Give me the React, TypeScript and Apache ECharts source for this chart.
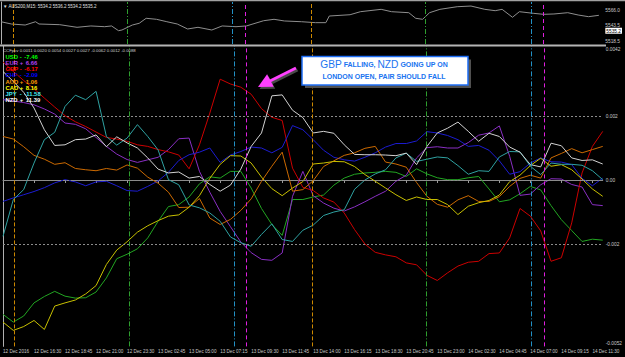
import React, { useEffect, useRef } from 'react';
import * as echarts from 'echarts';

// ---------- data ----------
// 15-minute bar index at which each CCF sample is read
const sampleBars: number[] = Array.from({ length: 59 }, (_, i) => i * 3);

const xTickLabels = [
  '12 Dec 2016', '12 Dec 16:30', '12 Dec 18:45', '12 Dec 21:00', '12 Dec 23:30',
  '13 Dec 02:45', '13 Dec 05:00', '13 Dec 07:15', '13 Dec 09:30', '13 Dec 11:45',
  '13 Dec 14:00', '13 Dec 16:15', '13 Dec 18:30', '13 Dec 20:45', '13 Dec 23:00',
  '14 Dec 02:30', '14 Dec 04:45', '14 Dec 07:00', '14 Dec 09:15', '14 Dec 11:30',
];
const xTickStep = 9;

// CCF values in units of 0.0001
const ccfTickValues = [-52, -20, 0, 20, 42];
const ccfTickLabels = ['-0.0052', '-0.002', '0.00', '0.002', '0.0042'];
const ccfGridValues = [-20, 0, 20];

const currencies = ['USD', 'EUR', 'GBP', 'CHF', 'AUD', 'CAD', 'JPY', 'NZD'];
const legendValues = [-7.46, 6.66, -6.17, -2.09, 1.06, 8.16, -11.58, 11.39];
const ccfHeader = 'CCFpcv 0.0011 0.0020 0.0054 0.0027 0.0027 -0.0062 0.0012 -0.0088';

const usd = [-42.0, -44.4, -42.5, -38.4, -36.4, -34.8, -36.3, -36.9, -36.8, -35.0, -30.6, -24.6, -23.2, -21.5, -18.1, -12.9, -8.3, -7.7, -5.3, -1.2, 1.0, 0.6, 2.7, 2.7, -2.5, -8.9, -13.9, -17.3, -6.1, -6.1, -5.3, -4.7, -1.6, 0.6, 1.8, 2.2, 2.4, 2.7, 2.4, 1.1, 3.5, 1.9, 0.7, 0.1, 0.1, 0.7, 1.1, -2.8, -6.8, -6.2, -4.3, -2.0, -3.1, -8.0, -12.4, -15.8, -19.2, -18.5, -18.8];
const eur = [25.1, 24.7, 24.2, 23.5, 22.2, 20.6, 17.8, 17.4, 16.0, 13.3, 10.5, 8.1, 6.4, 5.5, 6.3, 7.1, 9.5, 12.9, 13.1, 2.7, -3.8, -9.8, -14.6, -19.4, -22.7, -24.8, -25.1, -22.8, -5.1, 2.7, -4.9, -7.2, -8.8, -9.7, -8.4, -6.8, -5.1, -3.5, -0.4, 1.5, 6.9, 10.1, 10.4, 10.0, 10.0, 11.7, 14.0, 14.7, 16.9, 7.4, -4.8, -4.4, -1.5, 0.4, 0.3, -1.4, -2.2, -7.7, -8.0];
const gbp = [36.9, 33.9, 31.1, 28.5, 25.6, 22.8, 20.1, 18.2, 16.7, 15.0, 13.3, 12.8, 12.1, 11.0, 10.5, 9.5, 8.8, 7.8, 3.5, 11.0, 20.9, 31.5, 30.0, 29.0, 26.8, 22.3, 19.6, 18.6, 3.7, -2.3, -3.3, -5.6, -6.9, -10.3, -15.5, -20.0, -22.6, -23.4, -24.0, -25.9, -26.5, -29.8, -31.4, -29.0, -26.9, -25.7, -25.4, -23.0, -22.8, -18.1, -8.9, -11.3, -15.9, -25.4, -24.3, -13.4, 2.2, 10.5, 15.2];
const chf = [-6.7, -5.6, -4.6, -3.6, -2.4, -0.9, 0.1, -0.6, -1.8, -0.6, -0.4, -1.8, -3.3, -3.5, -2.0, -0.3, 2.4, 6.1, 7.9, 8.7, 10.0, 5.5, 7.8, 8.9, 10.3, 10.0, 8.5, 10.2, 17.0, 15.7, 12.6, 9.3, 7.1, 6.3, 5.9, 7.1, 8.5, 10.3, 11.4, 11.4, 12.2, 15.1, 14.7, 13.9, 12.6, 10.5, 10.8, 9.3, 6.0, 1.8, 2.6, 5.3, 6.9, 5.7, 5.6, 4.8, 0.5, -1.8, 0.6];
const aud = [13.6, 12.8, 10.4, 7.7, 6.5, 4.9, 5.4, 3.6, 3.2, 2.9, 3.6, 3.1, 4.7, 3.7, 0.9, -1.0, -3.8, -8.6, -8.5, -5.8, -11.9, -13.9, -12.3, -9.5, -5.9, -0.4, 4.3, 8.7, -3.5, -3.0, -0.2, 4.2, 6.0, 7.7, 8.5, 9.9, 10.5, 5.6, 5.0, 4.0, -0.8, -5.1, -7.6, -8.5, -6.2, -4.9, -6.7, -6.7, -5.2, -2.0, 0.5, 1.5, 0.6, 6.9, 8.3, 9.8, 8.5, 9.5, 10.5];
const cad = [-44.4, -47.0, -45.8, -43.9, -46.7, -39.4, -38.4, -37.5, -35.6, -33.0, -26.4, -21.9, -19.3, -16.3, -14.3, -12.7, -11.3, -10.9, -8.5, -4.9, 0.5, 4.9, 7.6, 7.5, 5.3, 0.9, -2.7, -4.9, -2.5, -0.5, 5.0, 5.3, 5.8, 5.7, 4.2, 1.7, -0.4, -2.5, -4.6, -6.4, -5.3, -6.1, -6.1, -7.7, -10.8, -8.2, -7.1, -6.4, -4.7, -0.5, 1.5, 4.5, 6.8, 4.3, 4.8, 3.2, 0.3, -2.8, -5.1];
const jpy = [-17.6, -6.1, -3.0, 5.3, 12.6, 14.9, 23.0, 26.5, 25.1, 27.7, 13.6, 10.9, 13.1, 17.3, 13.6, 9.4, 0.1, -1.5, -7.8, -8.7, -10.3, -12.9, -17.8, -19.6, -20.7, -17.0, -13.7, -18.6, -19.2, -15.7, -14.1, -11.1, -10.0, -9.3, -2.9, 0.0, 1.9, 3.2, 6.9, 8.4, 5.8, 6.5, 7.2, 6.9, 4.5, 1.8, 2.9, 2.7, 7.2, 8.9, 8.8, 4.3, 1.7, 5.3, 4.9, 4.9, 4.6, 2.9, 0.1];
const nzd = [33.9, 30.8, 27.4, 22.5, 15.7, 10.8, 11.0, 12.6, 12.8, 14.1, 10.4, 13.5, 11.6, 10.0, 6.9, 3.4, 2.2, 2.5, 0.6, 1.1, -1.4, -3.5, -1.6, 3.4, 10.5, 14.7, 26.3, 26.6, 21.8, 19.5, 14.7, 15.2, 14.6, 11.0, 8.0, 7.9, 7.9, 7.8, 7.6, 8.4, 4.8, 10.5, 14.7, 16.2, 18.1, 15.2, 12.1, 14.6, 13.6, 10.3, 8.7, 4.8, 4.1, 11.5, 10.7, 6.9, 6.1, 6.3, 5.0];
const ccfValues = [usd, eur, gbp, chf, aud, cad, jpy, nzd];

// AUS200 M15 price panel
const priceHeader = '\u25BC AUS200,M15: 5534.2 5536.2 5534.2 5535.2';
const priceTickValues = [5518.5, 5543.5, 5566.0];
const currentPrice = 5535.2;
const priceBars = [0, 3, 7, 10, 11, 17, 22, 26, 30, 32, 34, 35, 38, 40, 42, 45, 48, 51, 54, 57, 61, 64, 68, 71, 76, 79, 82, 87, 91, 94, 95, 101, 104, 110, 113, 118, 120, 122, 124, 127, 132, 136, 140, 143, 145, 148, 150, 154, 157, 160, 164, 167, 170, 173];
const priceValues = [5548.6, 5545.2, 5543.7, 5548.6, 5545.2, 5544.2, 5540.3, 5542.3, 5541.2, 5542.3, 5535.3, 5536.3, 5543.7, 5546.3, 5553.7, 5552.2, 5548.6, 5545.2, 5537.8, 5540.3, 5536.3, 5542.3, 5541.2, 5542.3, 5550.1, 5552.2, 5549.7, 5548.6, 5547.2, 5547.2, 5557.1, 5559.0, 5563.5, 5567.0, 5563.5, 5562.0, 5553.7, 5552.2, 5562.0, 5567.0, 5570.9, 5571.9, 5567.0, 5565.0, 5567.0, 5555.2, 5563.5, 5561.1, 5559.6, 5560.1, 5562.0, 5558.6, 5556.1, 5558.1];

// session marker lines (bar index)
const sessionBars = [3.4, 36.5, 67.0, 70.7, 89.7, 122.8, 153.3, 157.0];
const sessionKinds = ['tokyo', 'frankfurt', 'prelondon', 'london', 'tokyo', 'frankfurt', 'prelondon', 'london'];

const annotationLine2 = 'LONDON OPEN, PAIR SHOULD FALL';

// ---------- styles ----------
const lineColors: Record<string, string> = {
  USD: '#22a522', EUR: '#8a2fc4', GBP: '#cc0000', CHF: '#1c1cd2',
  AUD: '#cc6a00', CAD: '#c8c000', JPY: '#2fa2a2', NZD: '#d2d2d2',
};
const textColors: Record<string, string> = {
  USD: '#00ff00', EUR: '#b040f0', GBP: '#ff0000', CHF: '#0000ff',
  AUD: '#ff9a00', CAD: '#ffff00', JPY: '#40e8f0', NZD: '#ffffff',
};
const sessionStyle: Record<string, { color: string; type: number[] }> = {
  tokyo: { color: '#cc8800', type: [4, 2] },
  frankfurt: { color: '#2e9e2e', type: [5, 2, 1, 2] },
  prelondon: { color: '#2290c4', type: [5, 2, 1, 2] },
  london: { color: '#e020e0', type: [4, 3] },
};
const AXIS_TEXT = '#c8c8c8';
const FONT = "'Liberation Sans', Arial, sans-serif";

function sessionMarkData() {
  return sessionBars.map((b, i) => ({
    xAxis: b,
    lineStyle: { color: sessionStyle[sessionKinds[i]].color, type: sessionStyle[sessionKinds[i]].type, width: 1 },
    label: { show: false },
  }));
}

function buildOption() {
  const ccfSeries = currencies.map((c, i) => ({
    name: c,
    type: 'line',
    xAxisIndex: 1,
    yAxisIndex: 1,
    data: sampleBars.map((b, j) => [b, ccfValues[i][j]]),
    showSymbol: false,
    symbol: 'none',
    silent: true,
    z: 3,
    lineStyle: { color: lineColors[c], width: 1 },
  }));

  const legendGraphics: any[] = [];
  currencies.forEach((c, i) => {
    const y = 56.8 + 6.2 * i;
    const v = legendValues[i];
    const common = {
      fontSize: 5.9, lineHeight: 5.9, fontWeight: 'bold', fontFamily: FONT,
      fill: textColors[c], verticalAlign: 'middle',
    };
    legendGraphics.push({ type: 'text', x: 5.5, y, z: 100, style: { ...common, text: c } });
    legendGraphics.push({ type: 'text', x: 19.8, y, z: 100, style: { ...common, text: v < 0 ? '-' : '+' } });
    legendGraphics.push({ type: 'text', x: v < 0 ? 24.3 : 25.8, y, z: 100, style: { ...common, text: v.toFixed(2) } });
  });

  const blue = '#1a74f0';
  const arrowColor = '#ff40ff';

  return {
    backgroundColor: '#000000',
    animation: false,
    grid: [
      { left: 1, top: 2, width: 605, height: 42 },
      { left: 1, top: 45.6, width: 605, height: 300.8 },
    ],
    xAxis: [
      { type: 'value', gridIndex: 0, min: 0, max: 174, show: false },
      {
        type: 'value', gridIndex: 1, min: 0, max: 174, interval: xTickStep,
        axisLine: { show: true, lineStyle: { color: '#8a8a8a', width: 1 } },
        axisTick: { show: true, length: 3, lineStyle: { color: '#9a9a9a' } },
        splitLine: { show: false },
        axisLabel: {
          color: AXIS_TEXT, fontSize: 4.6, fontFamily: FONT, align: 'left', margin: 3,
          showMaxLabel: false,
          formatter: (v: number) => (v % xTickStep === 0 ? xTickLabels[v / xTickStep] ?? '' : ''),
        },
      },
    ],
    yAxis: [
      {
        type: 'value', gridIndex: 0, position: 'right', min: 5515.5, max: 5577.9,
        axisLine: { show: true, lineStyle: { color: '#b0b0b0' } },
        axisTick: { show: false }, splitLine: { show: false },
        axisLabel: {
          customValues: [...priceTickValues, currentPrice], color: AXIS_TEXT, fontSize: 4.8, fontFamily: FONT, margin: 3,
          formatter: (v: number) => (v === currentPrice ? `{cur|${v.toFixed(1)}}` : v.toFixed(1)),
          rich: {
            cur: {
              backgroundColor: '#ffffff', color: '#000000', fontSize: 4.8, fontFamily: FONT,
              padding: [1, 1, 0, 1], lineHeight: 5.5,
            },
          },
        },
      },
      {
        type: 'value', gridIndex: 1, position: 'right', min: -52, max: 42,
        axisLine: { show: true, lineStyle: { color: '#b0b0b0' } },
        axisTick: { show: false }, splitLine: { show: false },
        axisLabel: {
          customValues: ccfTickValues, color: AXIS_TEXT, fontSize: 4.8, fontFamily: FONT, margin: 3,
          formatter: (v: number) => {
            const i = ccfTickValues.indexOf(v);
            const t = i >= 0 ? ccfTickLabels[i] : '';
            if (i === ccfTickValues.length - 1) return `{t|${t}}`;
            if (i === 0) return `{b|${t}}`;
            return t;
          },
          rich: {
            t: { padding: [7, 0, 0, 0], fontSize: 4.8, color: AXIS_TEXT, fontFamily: FONT },
            b: { padding: [0, 0, 5, 0], fontSize: 4.8, color: AXIS_TEXT, fontFamily: FONT },
          },
        },
      },
    ],
    series: [
      {
        name: 'AUS200', type: 'line', xAxisIndex: 0, yAxisIndex: 0,
        data: priceBars.map((b, i) => [b, priceValues[i]]),
        showSymbol: false, symbol: 'none', silent: true,
        lineStyle: { color: '#8e8e8e', width: 1 },
        markLine: {
          silent: true, symbol: ['none', 'none'], animation: false,
          data: sessionMarkData(),
        },
      },
      {
        name: 'grid', type: 'line', xAxisIndex: 1, yAxisIndex: 1, data: [], z: 1,
        markLine: {
          silent: true, symbol: ['none', 'none'], animation: false,
          data: [
            ...ccfGridValues.map((v) => ({ yAxis: v, lineStyle: { color: '#8c8c8c', type: [2, 2], width: 1 }, label: { show: false } })),
            ...sessionMarkData(),
          ],
        },
      },
      ...ccfSeries,
    ],
    graphic: [
      { type: 'rect', z: 50, shape: { x: 0, y: 0, width: 625, height: 1.2 }, style: { fill: '#a0a0a0' } },
      { type: 'rect', z: 50, shape: { x: 0, y: 44.4, width: 606, height: 2 }, style: { fill: '#b4b4b4' } },
      { type: 'text', z: 100, x: 3, y: 6, style: { text: priceHeader, fill: '#e0e0e0', fontSize: 4.5, fontFamily: FONT, verticalAlign: 'middle' } },
      { type: 'text', z: 100, x: 3, y: 50.3, style: { text: ccfHeader, fill: '#d0d0d0', fontSize: 4.3, lineHeight: 4.3, fontFamily: FONT, verticalAlign: 'middle' } },
      ...legendGraphics,
      // annotation box
      { type: 'rect', z: 100, shape: { x: 305, y: 59.5, width: 166, height: 28.5 }, style: { fill: '#505050' } },
      { type: 'rect', z: 101, shape: { x: 302, y: 56.5, width: 166, height: 28.5 }, style: { fill: '#ffffff', stroke: '#1e6ef5', lineWidth: 1.5 } },
      {
        type: 'text', z: 102, x: 384, y: 64.5,
        style: {
          text: '{b|GBP}{s| FALLING, }{b|NZD}{s| GOING UP ON}',
          align: 'center', verticalAlign: 'middle',
          rich: {
            b: { fontSize: 10.2, fontFamily: FONT, fill: blue },
            s: { fontSize: 7, fontWeight: 'bold', fontFamily: FONT, fill: blue },
          },
        },
      },
      {
        type: 'text', z: 102, x: 384, y: 76.5,
        style: { text: annotationLine2, align: 'center', verticalAlign: 'middle', fontSize: 7, fontWeight: 'bold', fontFamily: FONT, fill: blue },
      },
      // arrow (shadow then arrow)
      { type: 'line', z: 100, shape: { x1: 297.5, y1: 70, x2: 269.5, y2: 84 }, style: { stroke: '#4a4a4a', lineWidth: 3 } },
      { type: 'polygon', z: 100, shape: { points: [[259.5, 89], [275.2, 88.7], [268.6, 76.3]] }, style: { fill: '#4a4a4a' } },
      { type: 'line', z: 101, shape: { x1: 296, y1: 68, x2: 268, y2: 82 }, style: { stroke: arrowColor, lineWidth: 3 } },
      { type: 'polygon', z: 101, shape: { points: [[258, 87], [273.7, 86.7], [267.1, 74.3]] }, style: { fill: arrowColor } },
    ],
  };
}

export default function App() {
  const ref = useRef<HTMLDivElement>(null);
  useEffect(() => {
    if (!ref.current) return;
    const chart = echarts.init(ref.current, undefined, { renderer: 'svg' });
    chart.setOption(buildOption() as any);
    return () => chart.dispose();
  }, []);
  return (
    <div
      ref={ref}
      style={{ position: 'absolute', left: 0, top: 0, width: 625, height: 357, background: '#000' }}
    />
  );
}
